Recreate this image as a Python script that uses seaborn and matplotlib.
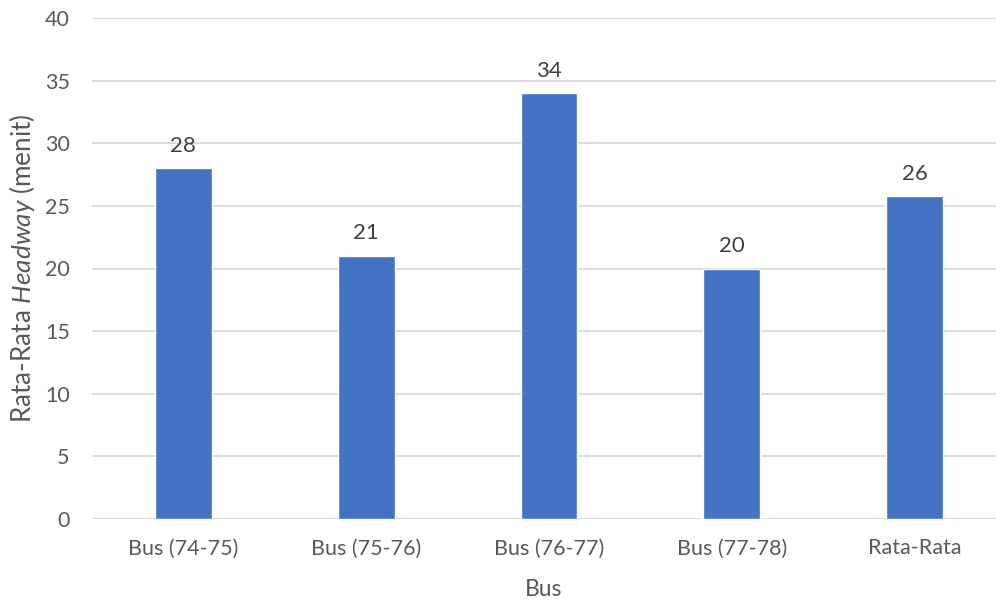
import matplotlib
matplotlib.use("Agg")
import matplotlib.pyplot as plt
import seaborn as sns
import pandas as pd

categories = ["Bus (74-75)", "Bus (75-76)", "Bus (76-77)", "Bus (77-78)", "Rata-Rata"]
values = [28, 21, 34, 20, 25.75]
yticks = [0, 5, 10, 15, 20, 25, 30, 35, 40]

sns.set_theme(style="white")
plt.rcParams['font.family'] = ['Lato', 'DejaVu Sans']
plt.rcParams['mathtext.fontset'] = 'custom'
plt.rcParams['mathtext.rm'] = 'Lato'
plt.rcParams['mathtext.it'] = 'Lato:italic'

TXT = "#595959"
df = pd.DataFrame({"Bus": categories, "Headway": values})

fig = plt.figure(figsize=(9.96, 6.01), dpi=100)
ax = fig.add_axes([92/996, 1 - 519/601, (996 - 92)/996, 501/601])
sns.barplot(data=df, x="Bus", y="Headway", color="#4472C4", width=0.31,
            saturation=1, ax=ax, zorder=3)
ax.set_xlim(-0.5, 4.5 - 10/182.75)
ax.set_ylim(0, 40)
ax.set_yticks(yticks)
ax.yaxis.grid(True, color="#D9D9D9", linewidth=1.3, zorder=0)
ax.xaxis.grid(False)
for s in ax.spines.values():
    s.set_visible(False)
ax.tick_params(axis='both', length=0, labelsize=15.5, colors=TXT)
ax.tick_params(axis='y', pad=16)
ax.tick_params(axis='x', pad=14)
for lab in ax.get_xticklabels() + ax.get_yticklabels():
    lab.set_color(TXT)

for p, v in zip(ax.patches, values):
    ax.annotate(f"{v:.0f}", (p.get_x() + p.get_width()/2, p.get_height()),
                xytext=(0, 9), textcoords="offset points", ha="center", va="bottom",
                fontsize=16, color="#404040")

ax.set_xlabel("Bus", fontsize=16.5, color=TXT)
ax.xaxis.set_label_coords(0.5, -(590 - 519) / 501)
ax.xaxis.label.set_va("center")
ax.set_ylabel(r"Rata-Rata $Headway$ (menit)", fontsize=18.8, color=TXT)
ax.yaxis.set_label_coords(-(92 - 22) / 904, 0.5)
ax.yaxis.label.set_va("center")

fig.savefig("out.png", dpi=100)
